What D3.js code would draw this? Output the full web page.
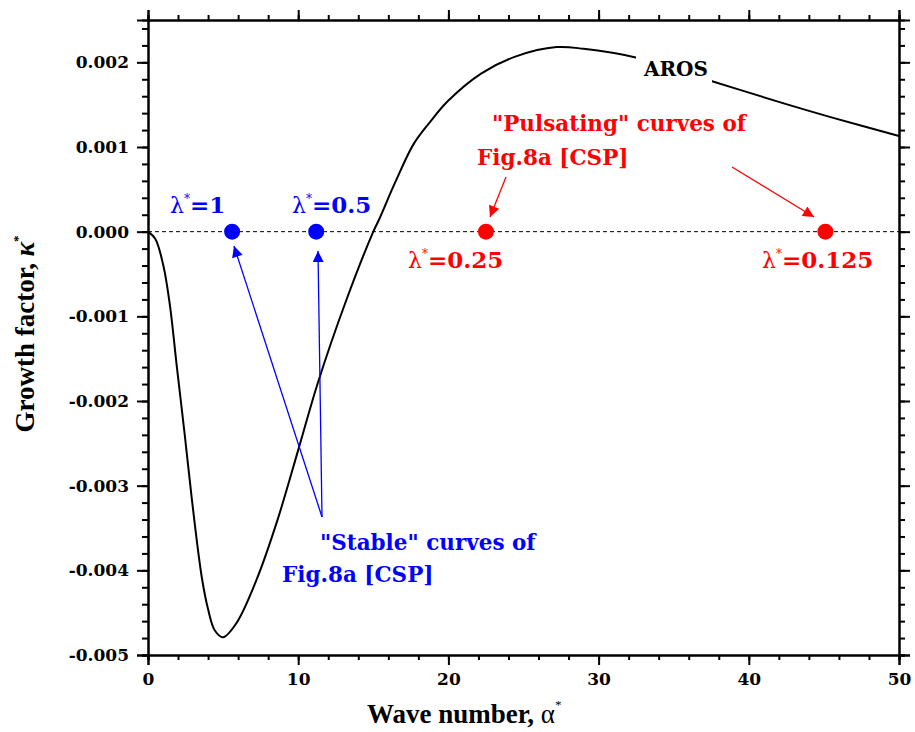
<!DOCTYPE html>
<html>
<head>
    <meta charset="UTF-8">
    <script src="https://d3js.org/d3.v7.min.js"></script>
    <style>
        body { margin: 0; background: #fff; }
        svg { display: block; }
        .tick text { font-family: "DejaVu Serif", serif; font-weight: bold; font-size: 17px; fill: #000; }
        .domain, .tick line { stroke: #000; stroke-width: 2px; }
    </style>
</head>
<body>
    <svg></svg>
    <script>
        // AROS curve
        let alpha = [0, 0.49, 1.02, 1.46, 1.91, 2.46, 2.9, 3.57, 4.0, 4.45, 5.0, 5.9, 7.23, 8.56, 10.0, 11.3, 13.2, 15.0, 15.4, 16.5, 17.7, 18.8, 19.95, 22.2, 24.5, 27.2, 29.0, 32.4, 37.5, 42.6, 45.5, 50];
        let growth = [0, -0.000086, -0.0004, -0.00087, -0.00158, -0.00242, -0.00313, -0.00407, -0.00446, -0.00471, -0.00479, -0.00462, -0.00411, -0.00344, -0.00258, -0.00179, -0.00081, 0, 0.00015, 0.0006, 0.00104, 0.0013, 0.00154, 0.00187, 0.00207, 0.00218, 0.00216, 0.00206, 0.00178, 0.0015, 0.00135, 0.00113];

        // marker positions on the zero line
        let stableAlpha = [5.6, 11.2];
        let stableLabels = ["1", "0.5"];
        let pulsAlpha = [22.5, 45.1];
        let pulsLabels = ["0.25", "0.125"];

        let xMajor = [0, 10, 20, 30, 40, 50];
        let yMajor = [-0.005, -0.004, -0.003, -0.002, -0.001, 0, 0.001, 0.002];

        let width = 915, height = 732;
        let mLeft = 148, mRight = 899, mTop = 20, mBottom = 655;

        let svg = d3.select("svg").attr("width", width).attr("height", height);

        let x = d3.scaleLinear().domain([0, 50]).range([mLeft, mRight]);
        let y = d3.scaleLinear().domain([-0.005, 0.0025]).range([mBottom, mTop]);

        let xMinor = d3.range(0, 50.01, 2);
        let yMinor = d3.range(-0.005, 0.00241, 0.0002).map(v => +v.toFixed(4));

        // axes: majors with labels, minors shorter
        svg.append("g").attr("transform", "translate(0," + mBottom + ")")
            .call(d3.axisBottom(x).tickValues(xMinor).tickSize(5).tickFormat(""));
        svg.append("g").attr("transform", "translate(0," + mBottom + ")")
            .call(d3.axisBottom(x).tickValues(xMajor).tickSize(10).tickPadding(8).tickFormat(d3.format("d")));
        svg.append("g").attr("transform", "translate(0," + mTop + ")")
            .call(d3.axisTop(x).tickValues(xMinor).tickSize(5).tickFormat(""));
        svg.append("g").attr("transform", "translate(0," + mTop + ")")
            .call(d3.axisTop(x).tickValues(xMajor).tickSize(10).tickFormat(""));

        svg.append("g").attr("transform", "translate(" + mLeft + ",0)")
            .call(d3.axisLeft(y).tickValues(yMinor).tickSize(6).tickFormat(""));
        svg.append("g").attr("transform", "translate(" + mLeft + ",0)")
            .call(d3.axisLeft(y).tickValues(yMajor).tickSize(11).tickPadding(8).tickFormat(d3.format(".3f")));
        svg.append("g").attr("transform", "translate(" + mRight + ",0)")
            .call(d3.axisRight(y).tickValues(yMinor).tickSize(6).tickFormat(""));
        svg.append("g").attr("transform", "translate(" + mRight + ",0)")
            .call(d3.axisRight(y).tickValues(yMajor).tickSize(11).tickFormat(""));

        svg.selectAll(".tick text").text(function () { return d3.select(this).text().replace("\u2212", "-"); });

        // zero line
        svg.append("line")
            .attr("x1", mLeft).attr("x2", mRight)
            .attr("y1", y(0)).attr("y2", y(0))
            .attr("stroke", "#000").attr("stroke-width", 1)
            .attr("stroke-dasharray", "4,3");

        // curve
        let line = d3.line()
            .x((d, i) => x(alpha[i]))
            .y(d => y(d))
            .curve(d3.curveCatmullRom.alpha(0.5));

        svg.append("path")
            .attr("d", line(growth))
            .attr("fill", "none")
            .attr("stroke", "#000")
            .attr("stroke-width", 2);

        // AROS label sits on a gap in the curve
        svg.append("rect")
            .attr("x", 636).attr("y", 48).attr("width", 76).attr("height", 36)
            .attr("fill", "#fff");
        svg.append("text")
            .attr("x", 676).attr("y", 76)
            .attr("text-anchor", "middle")
            .style("font-family", "DejaVu Serif").style("font-weight", "bold").style("font-size", "20px")
            .text("AROS");

        let blue = "#0000ff", red = "#ff0000";

        svg.append("defs").selectAll("marker")
            .data([["headBlue", blue], ["headRed", red]])
            .enter().append("marker")
            .attr("id", d => d[0])
            .attr("viewBox", "0 0 10 10")
            .attr("refX", 10).attr("refY", 5)
            .attr("markerWidth", 13).attr("markerHeight", 11)
            .attr("markerUnits", "userSpaceOnUse")
            .attr("orient", "auto")
            .append("path")
            .attr("d", "M0,0 L10,5 L0,10 Z")
            .attr("fill", d => d[1]);

        // arrows
        let arrows = [
            { from: [322, 517], to: [234, 246], c: "headBlue", col: blue },
            { from: [322, 517], to: [318, 251], c: "headBlue", col: blue },
            { from: [506, 177], to: [490, 217], c: "headRed", col: red },
            { from: [732, 167], to: [814, 217], c: "headRed", col: red }
        ];
        svg.selectAll(".arrow").data(arrows).enter().append("line")
            .attr("x1", d => d.from[0]).attr("y1", d => d.from[1])
            .attr("x2", d => d.to[0]).attr("y2", d => d.to[1])
            .attr("stroke", d => d.col).attr("stroke-width", 1.3)
            .attr("marker-end", d => "url(#" + d.c + ")");

        // markers
        svg.selectAll(".stable").data(stableAlpha).enter().append("circle")
            .attr("cx", d => x(d)).attr("cy", y(0)).attr("r", 8).attr("fill", blue);
        svg.selectAll(".puls").data(pulsAlpha).enter().append("circle")
            .attr("cx", d => x(d)).attr("cy", y(0)).attr("r", 8).attr("fill", red);

        function lambdaLabel(xp, yp, val, col) {
            let t = svg.append("text").attr("x", xp).attr("y", yp).attr("fill", col)
                .style("font-family", "DejaVu Serif").style("font-size", "22px");
            t.append("tspan").text("\u03bb");
            t.append("tspan").attr("dy", -10).style("font-size", "12px").text("*");
            t.append("tspan").attr("dy", 10).style("font-weight", "bold").style("font-size", "23px").text("=" + val);
        }
        lambdaLabel(170, 213, stableLabels[0], blue);
        lambdaLabel(292, 213, stableLabels[1], blue);
        lambdaLabel(408, 268, pulsLabels[0], red);
        lambdaLabel(762, 268, pulsLabels[1], red);

        function note(xp, yp, txt, col) {
            svg.append("text").attr("x", xp).attr("y", yp).attr("fill", col)
                .style("font-family", "DejaVu Serif").style("font-weight", "bold").style("font-size", "21.5px")
                .text(txt);
        }
        note(492, 131, "\"Pulsating\" curves of", red);
        note(477, 165, "Fig.8a [CSP]", red);
        note(320, 550, "\"Stable\" curves of", blue);
        note(282, 582, "Fig.8a [CSP]", blue);

        // axis titles
        let xt = svg.append("text").attr("x", 367).attr("y", 723)
            .style("font-family", "Liberation Serif").style("font-size", "27px");
        xt.append("tspan").style("font-weight", "bold").text("Wave number, ");
        xt.append("tspan").text("\u03b1");
        xt.append("tspan").attr("dy", -14).style("font-size", "13px").text("*");

        let yt = svg.append("text")
            .attr("transform", "translate(34,334) rotate(-90)")
            .attr("text-anchor", "middle")
            .style("font-family", "Liberation Serif").style("font-size", "27px").style("font-weight", "bold");
        yt.append("tspan").text("Growth factor, ");
        yt.append("tspan").style("font-style", "italic").text("\u03ba");
        yt.append("tspan").attr("dy", -12).style("font-size", "13px").text("*");
    </script>
</body>
</html>
